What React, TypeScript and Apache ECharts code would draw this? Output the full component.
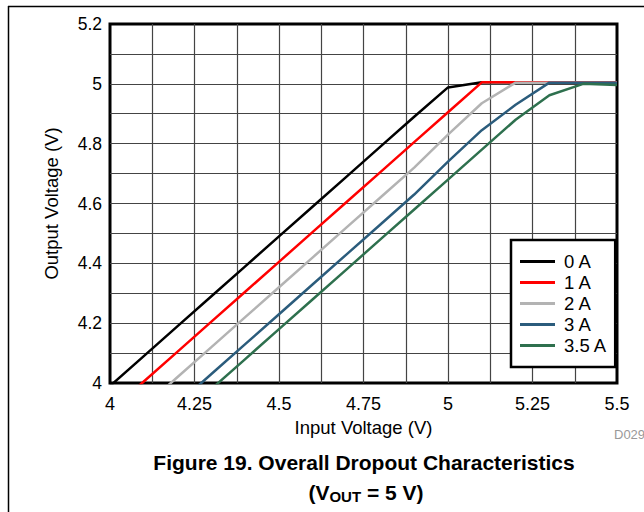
import React, { useEffect, useRef } from "react";
import * as echarts from "echarts";

const inputVoltage = [4.0, 4.1, 4.2, 4.3, 4.4, 4.5, 4.6, 4.7, 4.8, 4.9, 5.0, 5.1, 5.2, 5.3, 5.4, 5.5];
const out0A = [3.99, 4.09, 4.19, 4.29, 4.39, 4.49, 4.59, 4.69, 4.79, 4.89, 4.988, 5.005, 5.005, 5.005, 5.005, 5.005];
const out1A = [3.905, 4.005, 4.105, 4.205, 4.305, 4.405, 4.505, 4.605, 4.705, 4.805, 4.905, 5.005, 5.005, 5.005, 5.005, 5.005];
const out2A = [3.82, 3.92, 4.02, 4.12, 4.22, 4.32, 4.42, 4.52, 4.62, 4.72, 4.83, 4.935, 5.004, 5.004, 5.004, 5.004];
const out3A = [3.73, 3.83, 3.93, 4.03, 4.13, 4.23, 4.33, 4.43, 4.53, 4.63, 4.74, 4.845, 4.93, 5.004, 5.004, 5.004];
const out35A = [3.68, 3.78, 3.88, 3.98, 4.08, 4.18, 4.28, 4.38, 4.48, 4.58, 4.68, 4.78, 4.88, 4.962, 5.0, 4.996];
const seriesNames = ["0 A", "1 A", "2 A", "3 A", "3.5 A"];
const seriesColors = ["#000000", "#ff0000", "#b3b3b3", "#2b5c7c", "#2e704e"];
const seriesValues = [out0A, out1A, out2A, out3A, out35A];

const FONT = "'Liberation Sans', Arial, sans-serif";

export default function App() {
  const ref = useRef<HTMLDivElement>(null);
  useEffect(() => {
    if (!ref.current) return;
    const chart = echarts.init(ref.current, undefined, { renderer: "svg" });
    const gridLine = { show: true, lineStyle: { color: "#444", width: 1.2 } };
    chart.setOption({
      animation: false,
      backgroundColor: "#fff",
      textStyle: { fontFamily: FONT },
      grid: {
        left: 110,
        top: 24,
        right: 27,
        bottom: 129,
        show: true,
        borderColor: "#000",
        borderWidth: 3,
        backgroundColor: "transparent",
      },
      xAxis: {
        type: "value",
        min: 4,
        max: 5.5,
        interval: 0.25,
        name: "Input Voltage (V)",
        nameLocation: "middle",
        nameGap: 33,
        nameTextStyle: { fontSize: 18.5, color: "#000", fontFamily: FONT },
        axisLine: { show: false },
        axisTick: { show: false },
        axisLabel: { fontSize: 18, color: "#000", margin: 12, fontFamily: FONT },
        splitLine: { ...gridLine, showMinLine: false, showMaxLine: false },
        minorTick: { show: false, splitNumber: 2 },
        minorSplitLine: gridLine,
      },
      yAxis: {
        type: "value",
        min: 4,
        max: 5.2,
        interval: 0.2,
        name: "Output Voltage (V)",
        nameLocation: "middle",
        nameGap: 49,
        nameRotate: 90,
        nameTextStyle: { fontSize: 18.5, color: "#000", fontFamily: FONT },
        axisLine: { show: false },
        axisTick: { show: false },
        axisLabel: { fontSize: 17.5, color: "#000", margin: 8, fontFamily: FONT },
        splitLine: { ...gridLine, showMinLine: false, showMaxLine: false },
        minorTick: { show: false, splitNumber: 2 },
        minorSplitLine: gridLine,
      },
      legend: {
        orient: "vertical",
        left: 511,
        top: 240,
        padding: [11, 8, 11, 9],
        itemGap: 0,
        itemWidth: 35,
        itemHeight: 14,
        icon: "path://M0,0H35V3H0Z",
        backgroundColor: "#fff",
        borderColor: "#000",
        borderWidth: 2.5,
        textStyle: { fontSize: 18.5, lineHeight: 21, height: 21, color: "#000", fontFamily: FONT, padding: [0, 0, 0, 4] },
        data: seriesNames,
      },
      series: seriesNames.map((name, i) => ({
        name,
        type: "line",
        symbol: "none",
        clip: true,
        color: seriesColors[i],
        itemStyle: { color: seriesColors[i] },
        lineStyle: { color: seriesColors[i], width: 2.5 },
        data: inputVoltage.map((x, j) => [x, seriesValues[i][j]]),
        z: 3,
      })),
      graphic: [
        { type: "line", shape: { x1: 8.5, y1: 6, x2: 8.5, y2: 512 }, style: { stroke: "#000", lineWidth: 1.5 } },
        { type: "line", shape: { x1: 8, y1: 6.5, x2: 644, y2: 6.5 }, style: { stroke: "#000", lineWidth: 1.5 } },
        {
          type: "text",
          x: 614,
          y: 428,
          style: { text: "D029", fontSize: 13, fill: "#999", fontFamily: FONT },
        },
        {
          type: "text",
          x: 364,
          y: 462,
          style: {
            text: "Figure 19. Overall Dropout Characteristics",
            fontSize: 21,
            fontWeight: "bold",
            fill: "#000",
            fontFamily: FONT,
            align: "center",
            verticalAlign: "middle",
          },
        },
        {
          type: "text",
          x: 366,
          y: 492,
          style: {
            text: "{b|(V}{s|OUT}{b| = 5 V)}",
            align: "center",
            verticalAlign: "middle",
            rich: {
              b: { fontSize: 21, fontWeight: "bold", fill: "#000", fontFamily: FONT, lineHeight: 26 },
              s: { fontSize: 15, fontWeight: "bold", fill: "#000", fontFamily: FONT, lineHeight: 26, padding: [9, 0, 0, 0] },
            },
          },
        },
      ],
    });
    return () => chart.dispose();
  }, []);
  return (
    <div
      ref={ref}
      style={{ position: "absolute", left: 0, top: 0, width: 644, height: 512 }}
    />
  );
}
